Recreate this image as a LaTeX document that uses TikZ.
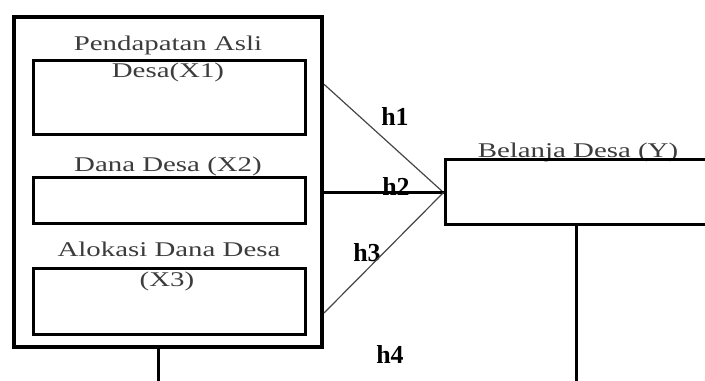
\documentclass[tikz,border=0pt]{standalone}
\usepackage{fontspec}
\setmainfont{Liberation Serif}
\newfontfamily\widefont[FakeStretch=1.38]{Liberation Serif}
\usepackage{tikz}
\usetikzlibrary{arrows,shapes}
\definecolor{textgray}{RGB}{60,60,60}
\definecolor{pathgray}{RGB}{70,70,70}

\begin{document}
\begin{tikzpicture}[line join=miter,
	outerbox/.style={draw,line width=4bp,inner sep=0pt,minimum width=308bp,minimum height=329.5bp},
	varbox/.style={draw,line width=3bp,inner sep=0pt},
	vartext/.style={anchor=base,inner sep=0pt,text=textgray,font=\widefont\fontsize{21}{24}\selectfont},
	hyp/.style={inner sep=0pt,font=\bfseries\fontsize{26}{30}\selectfont}]
		\useasboundingbox (0bp,0bp) rectangle (705bp,381bp);
		\clip (0bp,0bp) rectangle (705bp,381bp);
		% independent variables
		  \node (outer) at (168bp,198.75bp) [outerbox] {};
		  \node (t1a) at (168bp,330bp) [vartext] {Pendapatan Asli};
		  \node (x1) at (169bp,283bp) [varbox,minimum width=272bp,minimum height=74bp] {};
		  \node (t1b) at (168bp,303bp) [vartext] {Desa(X1)};
		  \node (t2) at (168bp,209bp) [vartext] {Dana Desa (X2)};
		  \node (x2) at (169bp,180bp) [varbox,minimum width=272bp,minimum height=46bp] {};
		  \node (t3a) at (169bp,124bp) [vartext] {Alokasi Dana Desa};
		  \node (x3) at (169bp,79bp) [varbox,minimum width=272bp,minimum height=66bp] {};
		  \node (t3b) at (167bp,94bp) [vartext] {(X3)};
		% dependent variable
		  \node (ty) at (578bp,223bp) [vartext] {Belanja Desa (Y)};
		  \node (y) at (582.5bp,188.5bp) [varbox,minimum width=275bp,minimum height=65bp] {};
		% hypotheses
		  \node (h1) at (395bp,264bp) [hyp] {h1};
		  \node (h2) at (396bp,194bp) [hyp] {h2};
		  \node (h3) at (367bp,128bp) [hyp] {h3};
		  \node (h4) at (390bp,26bp) [hyp] {h4};
		  \coordinate (xfoot) at (158bp,0bp);
		  \coordinate (yfoot) at (576bp,0bp);
		  \draw [pathgray,line width=1.2bp] ([yshift=98bp]outer.east) -- (y.west);
		  \draw [line width=2.5bp] (outer.east |- y.west) -- (y.west);
		  \draw [pathgray,line width=1.2bp] ([yshift=-130.75bp]outer.east) -- (y.west);
		  \draw [line width=3bp] (outer.south -| xfoot) -- (xfoot);
		  \draw [line width=3bp] (y.south -| yfoot) -- (yfoot);
		
	\end{tikzpicture}
\end{document}
